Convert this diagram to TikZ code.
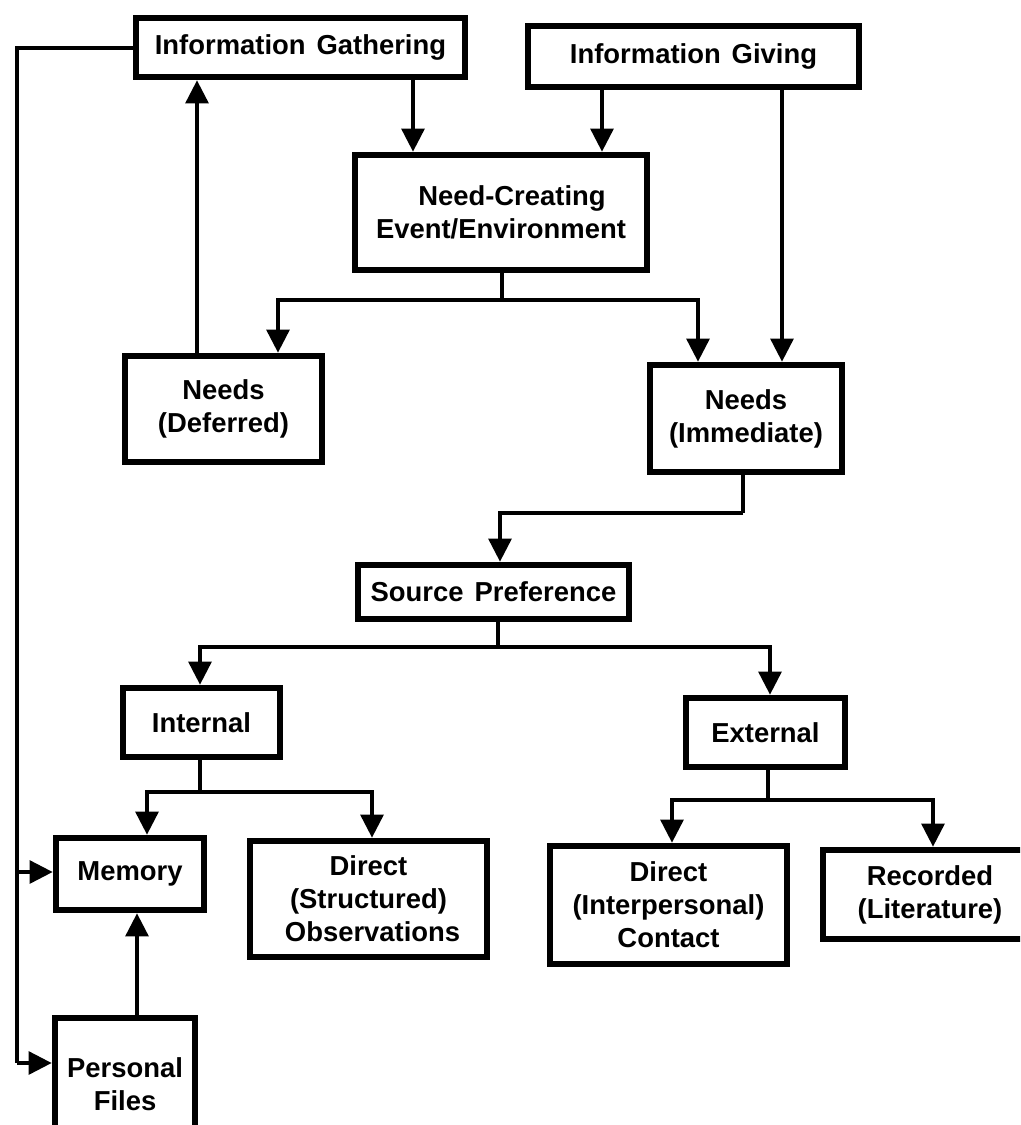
\documentclass[tikz,border=0pt]{standalone}
\usepackage{fontspec}
\newfontfamily\diagfont{Liberation Sans}
\usetikzlibrary{arrows.meta}
\newcommand{\wgap}{\hspace{0.4em}}
\tikzset{
  box/.style={draw, line width=4.5pt, inner sep=0pt, align=center,
    font=\diagfont\bfseries\fontsize{19.5}{23.5}\selectfont},
  bx/.style 2 args={minimum width=#1*0.025cm, minimum height=#2*0.025cm},
  conn/.style={line width=3.3pt},
  arr/.style={line width=3.3pt, -{Triangle[width=0.56cm,length=0.58cm]}},
}
\begin{document}
\begin{tikzpicture}[x=0.025cm, y=-0.025cm]
\useasboundingbox (0,0) rectangle (1020,1125);
\clip (0,0) rectangle (1020,1125);
\fill[white] (0,0) rectangle (1020,1125);

% boxes
\node[box, bx={329}{59}] (ig) at (300.5,47.5) {Information\wgap Gathering};
\node[box, bx={331}{61}] (igv) at (693.5,56.5) {Information\wgap Giving};
\node[box, bx={292}{115}] (nce) at (501,212.5) {\hspace{0.8em}Need-Creating\\Event/Environment};
\node[box, bx={197}{106}] (nd) at (223.5,409) {Needs\\(Deferred)};
\node[box, bx={192}{107}] (ni) at (746,418.5) {Needs\\(Immediate)};
\node[box, bx={271}{54}] (sp) at (493.5,592) {Source\wgap Preference};
\node[box, bx={157}{69}] (int) at (201.5,722.5) {Internal};
\node[box, bx={159}{69}] (ext) at (765.5,732.5) {External};
\node[box, bx={148}{72}] (mem) at (130,874) {Memory};
\node[box, bx={237}{116}] (dso) at (368.5,899) {Direct\\(Structured)\\\hspace{0.3em}Observations};
\node[box, bx={140}{132}] (pf) at (125,1084) {Personal\\Files};
\node[box, bx={237}{118}] (dic) at (668.5,905) {Direct\\(Interpersonal)\\Contact};
\node[box, bx={214}{89}] (rec) at (930,894.5) {Recorded\\(Literature)};

% top arrows
\draw[arr] (413,0 |- ig.south) -- (413,0 |- nce.north);
\draw[arr] (602,0 |- igv.south) -- (602,0 |- nce.north);
\draw[arr] (782,0 |- igv.south) -- (782,0 |- ni.north);

% need-creating split
\coordinate (nceb) at (502,300);
\draw[conn] (502,0 |- nce.south) -- (nceb);
\draw[arr] (nceb) -| (278,0 |- nd.north);
\draw[arr] (nceb) -| (698,0 |- ni.north);

% deferred back to gathering
\draw[arr] (197,0 |- nd.north) -- (197,0 |- ig.south);

% immediate to source preference
\coordinate (nib) at (743,513);
\draw[conn] (743,0 |- ni.south) -- (nib);
\draw[arr] (nib) -| (500,0 |- sp.north);

% source preference split
\coordinate (spb) at (498,647);
\draw[conn] (498,0 |- sp.south) -- (spb);
\draw[arr] (spb) -| (200,0 |- int.north);
\draw[arr] (spb) -| (770,0 |- ext.north);

% internal split
\coordinate (intb) at (200,792);
\draw[conn] (200,0 |- int.south) -- (intb);
\draw[arr] (intb) -| (147,0 |- mem.north);
\draw[arr] (intb) -| (372,0 |- dso.north);

% external split
\coordinate (extb) at (768,800);
\draw[conn] (768,0 |- ext.south) -- (extb);
\draw[arr] (extb) -| (672,0 |- dic.north);
\draw[arr] (extb) -| (933,0 |- rec.north);

% personal files to memory
\draw[arr] (137,0 |- pf.north) -- (137,0 |- mem.south);

% feedback loop from gathering
\coordinate (fbtop) at (17,48);
\coordinate (fbmem) at (17,872);
\coordinate (fbpf) at (17,1063);
\draw[conn] (ig.west |- fbtop) -- (fbtop) -- (fbpf);
\draw[arr] (fbmem) -- (fbmem -| mem.west);
\draw[arr] (fbpf) -- (fbpf -| pf.west);
\end{tikzpicture}
\end{document}
